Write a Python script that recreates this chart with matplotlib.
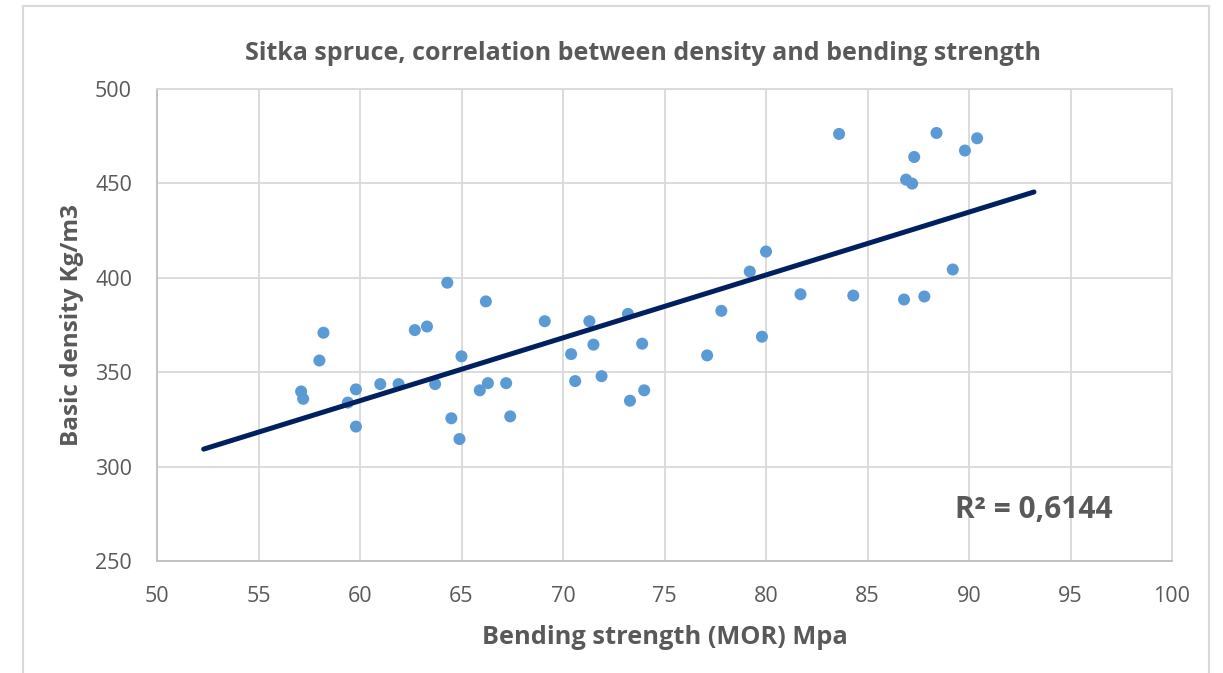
import matplotlib
matplotlib.use("Agg")
import matplotlib.pyplot as plt
import matplotlib.patches as patches
import numpy as np

# Data
mor = [64.3, 66.2, 58.2, 62.7, 63.3, 58.0, 65.0, 57.1, 57.2, 59.4,
       59.8, 61.0, 61.9, 63.7, 59.8, 64.5, 64.9, 65.9, 66.3, 67.2,
       67.4, 69.1, 71.3, 73.2, 70.4, 71.5, 73.9, 70.6, 71.9, 73.3,
       74.0, 77.1, 77.8, 79.8, 81.7, 79.2, 80.0, 83.6, 88.4, 90.4,
       89.8, 87.3, 86.9, 87.2, 89.2, 84.3, 86.8, 87.8]
density = [397.4, 387.5, 370.9, 372.3, 374.2, 356.2, 358.4, 339.8, 335.9, 333.9,
           340.9, 343.7, 343.7, 343.7, 321.2, 325.6, 314.6, 340.4, 344.2, 344.2,
           326.6, 377.0, 377.0, 380.9, 359.6, 364.6, 365.1, 345.3, 347.9, 334.9,
           340.4, 358.9, 382.5, 368.8, 391.3, 403.3, 413.9, 476.2, 476.7, 473.9,
           467.4, 464.0, 452.0, 449.9, 404.4, 390.6, 388.5, 390.1]

trend_x = [52.3, 93.2]
trend_slope = 3.33
trend_intercept = 135.1
r2_label = "R² = 0,6144"

x_ticks = [50, 55, 60, 65, 70, 75, 80, 85, 90, 95, 100]
y_ticks = [250, 300, 350, 400, 450, 500]

title = "Sitka spruce, correlation between density and bending strength"
xlabel = "Bending strength (MOR) Mpa"
ylabel = "Basic density Kg/m3"

plt.rcParams['font.family'] = ['Open Sans', 'DejaVu Sans']
text_gray = '#595959'
grid_gray = '#D9D9D9'

fig = plt.figure(figsize=(12.23, 6.73), dpi=100)
ax = fig.add_axes([157/1223, 1-561/673, (1172-157)/1223, (561-89)/673])

# outer chart border
fig.patches.append(patches.Rectangle((23/1223, -0.05), (1209-23)/1223, 1.05-6/673,
                                     transform=fig.transFigure, fill=False,
                                     edgecolor=grid_gray, linewidth=1.5))

ax.scatter(mor, density, s=75, color='#5B9BD5', edgecolors='none', zorder=3)
tx = np.array(trend_x)
ax.plot(tx, trend_slope*tx + trend_intercept, color='#002060', linewidth=3.6,
        solid_capstyle='round', zorder=4)

ax.set_xlim(50, 100)
ax.set_ylim(250, 500)
ax.set_xticks(x_ticks)
ax.set_yticks(y_ticks)
ax.grid(True, color=grid_gray, linewidth=1.3, zorder=0)
ax.set_axisbelow(True)
for s in ax.spines.values():
    s.set_color(grid_gray)
    s.set_linewidth(1.3)
ax.spines['bottom'].set_color('#BFBFBF')
ax.spines['left'].set_color('#BFBFBF')
ax.tick_params(axis='both', length=0, labelsize=15.5, labelcolor=text_gray)
ax.tick_params(axis='y', pad=18)
ax.tick_params(axis='x', pad=18)

ax.set_xlabel(xlabel, fontsize=18.3, fontweight='bold', color=text_gray, labelpad=13)
ax.set_ylabel(ylabel, fontsize=17.5, fontweight='bold', color=text_gray, labelpad=8)
fig.text(643/1223, 1-53/673, title, ha='center', va='center', fontsize=18,
         fontweight='bold', color=text_gray)
ax.text(1034/1223, 1-510/673, r2_label, transform=fig.transFigure, ha='center', va='center',
        fontsize=21.5, fontweight='bold', color=text_gray)

fig.savefig('out.png', dpi=100, facecolor='white')
